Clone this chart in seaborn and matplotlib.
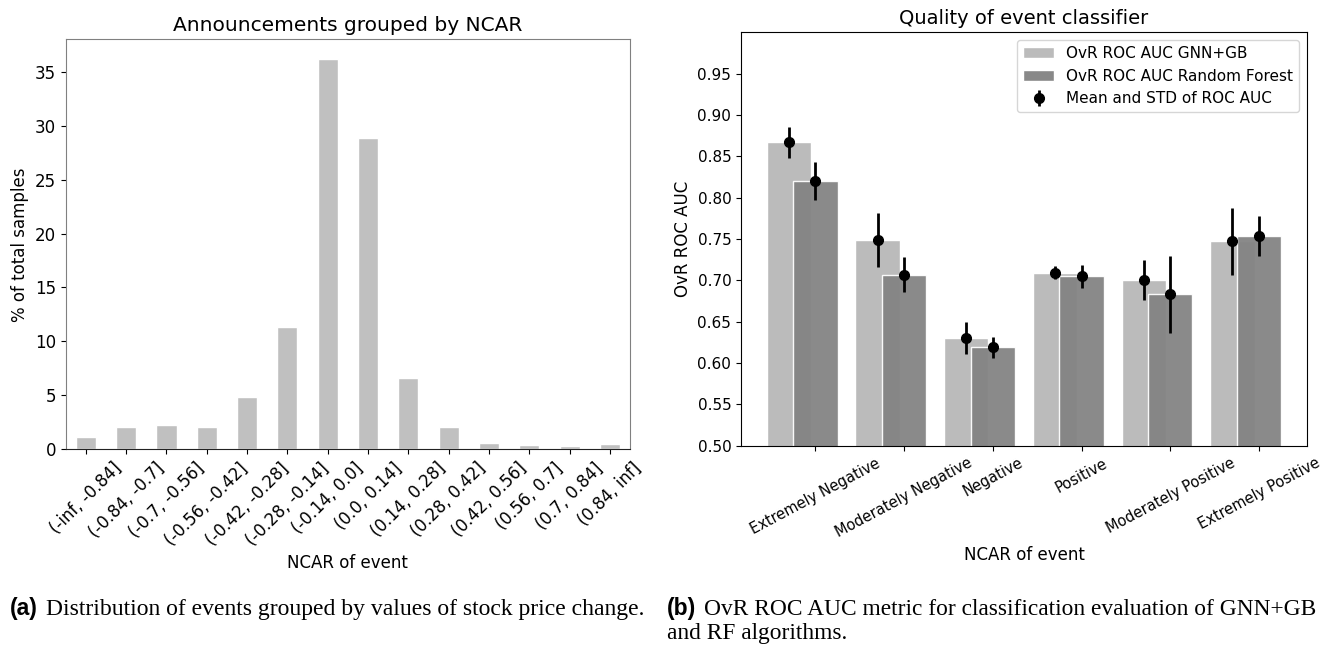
import numpy as np
import pandas as pd
import matplotlib
matplotlib.use("Agg")
import matplotlib.pyplot as plt
from matplotlib.patches import Patch
import seaborn as sns

# left panel: share of announcements per NCAR bin
bins = ["(-inf, -0.84]", "(-0.84, -0.7]", "(-0.7, -0.56]", "(-0.56, -0.42]",
        "(-0.42, -0.28]", "(-0.28, -0.14]", "(-0.14, 0.0]", "(0.0, 0.14]",
        "(0.14, 0.28]", "(0.28, 0.42]", "(0.42, 0.56]", "(0.56, 0.7]",
        "(0.7, 0.84]", "(0.84, inf]"]
share = [1.14, 2.10, 2.22, 2.10, 4.82, 11.37, 36.2, 28.9, 6.59, 2.10,
         0.55, 0.40, 0.31, 0.49]

# right panel: OvR ROC AUC per class
classes = ["Extremely Negative", "Moderately Negative", "Negative",
           "Positive", "Moderately Positive", "Extremely Positive"]
gnn_auc = [0.867, 0.749, 0.630, 0.709, 0.700, 0.747]
gnn_std = [0.019, 0.033, 0.019, 0.008, 0.024, 0.041]
rf_auc = [0.820, 0.707, 0.619, 0.705, 0.683, 0.754]
rf_std = [0.023, 0.021, 0.013, 0.014, 0.047, 0.024]

sns.set_style("ticks")
plt.rcParams["font.family"] = ["DejaVu Sans"]
for k in ["text.color", "axes.labelcolor", "xtick.color", "ytick.color",
          "axes.edgecolor"]:
    plt.rcParams[k] = "black"

fig = plt.figure(figsize=(13.22, 6.45), dpi=100)

# ---- (a) distribution
ax1 = fig.add_axes([0.0497, 0.3034, 0.4269, 0.6357])
sns.barplot(x=bins, y=share, color="#c0c0c0", saturation=1, width=0.5,
            edgecolor="white", linewidth=1, ax=ax1)
ax1.set_xlim(-0.5, len(bins) - 0.5)
ax1.set_title("Announcements grouped by NCAR", fontsize=14.5)
ax1.set_xlabel("NCAR of event", fontsize=12)
ax1.set_ylabel("% of total samples", fontsize=12)
ax1.tick_params(axis="both", labelsize=12)
plt.setp(ax1.get_xticklabels(), rotation=45, ha="center")
for s in ax1.spines.values():
    s.set_color("#808080")
ax1.spines["bottom"].set_color("#222222")

# ---- (b) classifier quality
ax2 = fig.add_axes([0.5605, 0.309, 0.4281, 0.641])
pos = np.arange(len(classes))
df = pd.DataFrame({"pos": pos, "gnn": gnn_auc, "rf": rf_auc})
sns.barplot(x=df["pos"] - 0.3, y=df["gnn"], native_scale=True, width=0.5,
            color="#bbbbbb", saturation=1, edgecolor="white", linewidth=1,
            ax=ax2)
sns.barplot(x=df["pos"], y=df["rf"], native_scale=True, width=0.5,
            color="#848484", alpha=0.95, saturation=1, edgecolor="white",
            linewidth=1, ax=ax2)
eb = ax2.errorbar(pos - 0.3, gnn_auc, yerr=gnn_std, fmt="o", color="black",
                  ms=7, elinewidth=2)
ax2.errorbar(pos, rf_auc, yerr=rf_std, fmt="o", color="black",
             ms=7, elinewidth=2)
ax2.set_xlim(-0.84, 5.54)
ax2.set_ylim(0.5, 1.0)
yt = np.arange(0.5, 0.96, 0.05)
ax2.set_yticks(yt)
ax2.set_yticklabels([f"{v:.2f}" for v in yt])
ax2.set_xticks(pos)
ax2.set_xticklabels(classes, rotation=28, ha="center", fontsize=10.5)
ax2.set_title("Quality of event classifier", fontsize=14)
ax2.set_xlabel("NCAR of event", fontsize=12)
ax2.set_ylabel("OvR ROC AUC", fontsize=12)
ax2.tick_params(axis="y", labelsize=11)

handles = [Patch(facecolor="#bbbbbb", label="OvR ROC AUC GNN+GB"),
           Patch(facecolor="#888888", label="OvR ROC AUC Random Forest"),
           eb]
labels = [h.get_label() for h in handles[:2]] + ["Mean and STD of ROC AUC"]
ax2.legend(handles=handles, labels=labels, loc="upper right", fontsize=11)

# captions
serif = ["Liberation Serif", "DejaVu Serif"]
bold = ["Liberation Sans", "DejaVu Sans"]
fig.text(0.0076, 0.0465, "(a)", fontsize=16.5, fontweight="bold",
         family=bold, va="baseline")
fig.text(0.0348, 0.0465,
         "Distribution of events grouped by values of stock price change.",
         fontsize=17, family=serif, va="baseline")
fig.text(0.5045, 0.0465, "(b)", fontsize=16.5, fontweight="bold",
         family=bold, va="baseline")
fig.text(0.5325, 0.0465,
         "OvR ROC AUC metric for classification evaluation of GNN+GB",
         fontsize=16.8, family=serif, va="baseline")
fig.text(0.5045, 0.0093, "and RF algorithms.", fontsize=16.8, family=serif,
         va="baseline")

fig.savefig("out.png", dpi=100)
